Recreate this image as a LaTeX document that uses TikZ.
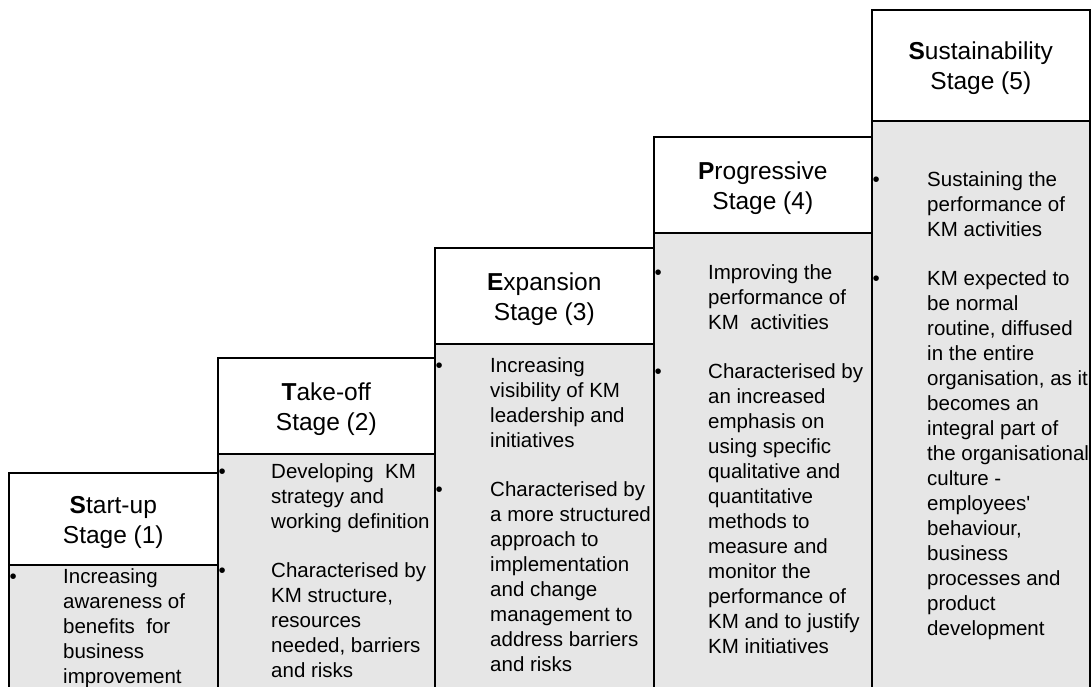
\documentclass[tikz,border=0pt]{standalone}
\usepackage{fontspec}
\setmainfont{Liberation Sans}[Ligatures=TeXOff]
\definecolor{bodygray}{HTML}{E6E6E6}
\begin{document}
\begin{tikzpicture}[x=1pt,y=-1pt,
  headbox/.style={draw, line width=1.6pt, fill=white, align=center, inner sep=0pt,
    anchor=north west, font=\fontsize{24.5}{30}\selectfont},
  bodybox/.style={draw, line width=1.6pt, fill=bodygray, inner sep=0pt, anchor=north west},
  bodytext/.style={align=left, inner sep=0pt, anchor=north west, font=\fontsize{20.5}{25}\selectfont},
  bulletmark/.style={inner sep=0pt, anchor=base west, font=\fontsize{20.5}{25}\selectfont}]
\useasboundingbox (0,0) rectangle (1091,686);
\clip (0,0) rectangle (1091,686);

% Column 1
\node[bodybox, minimum width=209pt, minimum height=150pt] (b1) at (8,564) {};
\node[headbox, minimum width=209pt, minimum height=92pt] (h1) at (8,472)
  {\rule{0pt}{24pt}\textbf{S}tart-up\\Stage (1)};
% Column 2
\node[bodybox, minimum width=217pt, minimum height=260pt] (b2) at (217,453) {};
\node[headbox, minimum width=217pt, minimum height=96pt] (h2) at (217,357)
  {\rule{0pt}{24pt}\textbf{T}ake-off\\Stage (2)};
% Column 3
\node[bodybox, minimum width=219pt, minimum height=370pt] (b3) at (434,343) {};
\node[headbox, minimum width=219pt, minimum height=96pt] (h3) at (434,247)
  {\rule{0pt}{24pt}\textbf{E}xpansion\\Stage (3)};
% Column 4
\node[bodybox, minimum width=218pt, minimum height=480pt] (b4) at (653,232) {};
\node[headbox, minimum width=218pt, minimum height=96pt] (h4) at (653,136)
  {\rule{0pt}{24pt}\textbf{P}rogressive\\Stage (4)};
% Column 5
\node[bodybox, minimum width=218pt, minimum height=590pt] (b5) at (871,120) {};
\node[headbox, minimum width=218pt, minimum height=111pt] (h5) at (871,9)
  {\rule{0pt}{24pt}\textbf{S}ustainability\\Stage (5)};

% Body texts
\node[bodytext] (t1) at (63,565.5)
  {\strut Increasing\\awareness of\\benefits~ for\\business\\improvement};
\node[bulletmark] (p11) at (9.5,583) {•};

\node[bodytext] (t2) at (271,460.5)
  {\strut Developing~ KM\\strategy and\\working definition\\[24pt]Characterised by\\KM structure,\\resources\\needed, barriers\\and risks};
\node[bulletmark] (p21) at (218.5,478) {•};
\node[bulletmark] (p22) at (218.5,577) {•};

\node[bodytext] (t3) at (490,354.5)
  {\strut Increasing\\visibility of KM\\leadership and\\initiatives\\[24pt]Characterised by\\a more structured\\approach to\\implementation\\and change\\management to\\address barriers\\and risks};
\node[bulletmark] (p31) at (435.5,372) {•};
\node[bulletmark] (p32) at (435.5,496) {•};

\node[bodytext] (t4) at (708,261.5)
  {\strut Improving the\\performance of\\KM~ activities\\[24pt]Characterised by\\an increased\\emphasis on\\using specific\\qualitative and\\quantitative\\methods to\\measure and\\monitor the\\performance of\\KM and to justify\\KM initiatives};
\node[bulletmark] (p41) at (654.5,279) {•};
\node[bulletmark] (p42) at (654.5,378) {•};

\node[bodytext] (t5) at (927,168.5)
  {\strut Sustaining the\\performance of\\KM activities\\[24pt]KM expected to\\be normal\\routine, diffused\\in the entire\\organisation, as it\\becomes an\\integral part of\\the organisational\\culture -\\employees'\\behaviour,\\business\\processes and\\product\\development};
\node[bulletmark] (p51) at (872.5,186) {•};
\node[bulletmark] (p52) at (872.5,285) {•};
\end{tikzpicture}
\end{document}
